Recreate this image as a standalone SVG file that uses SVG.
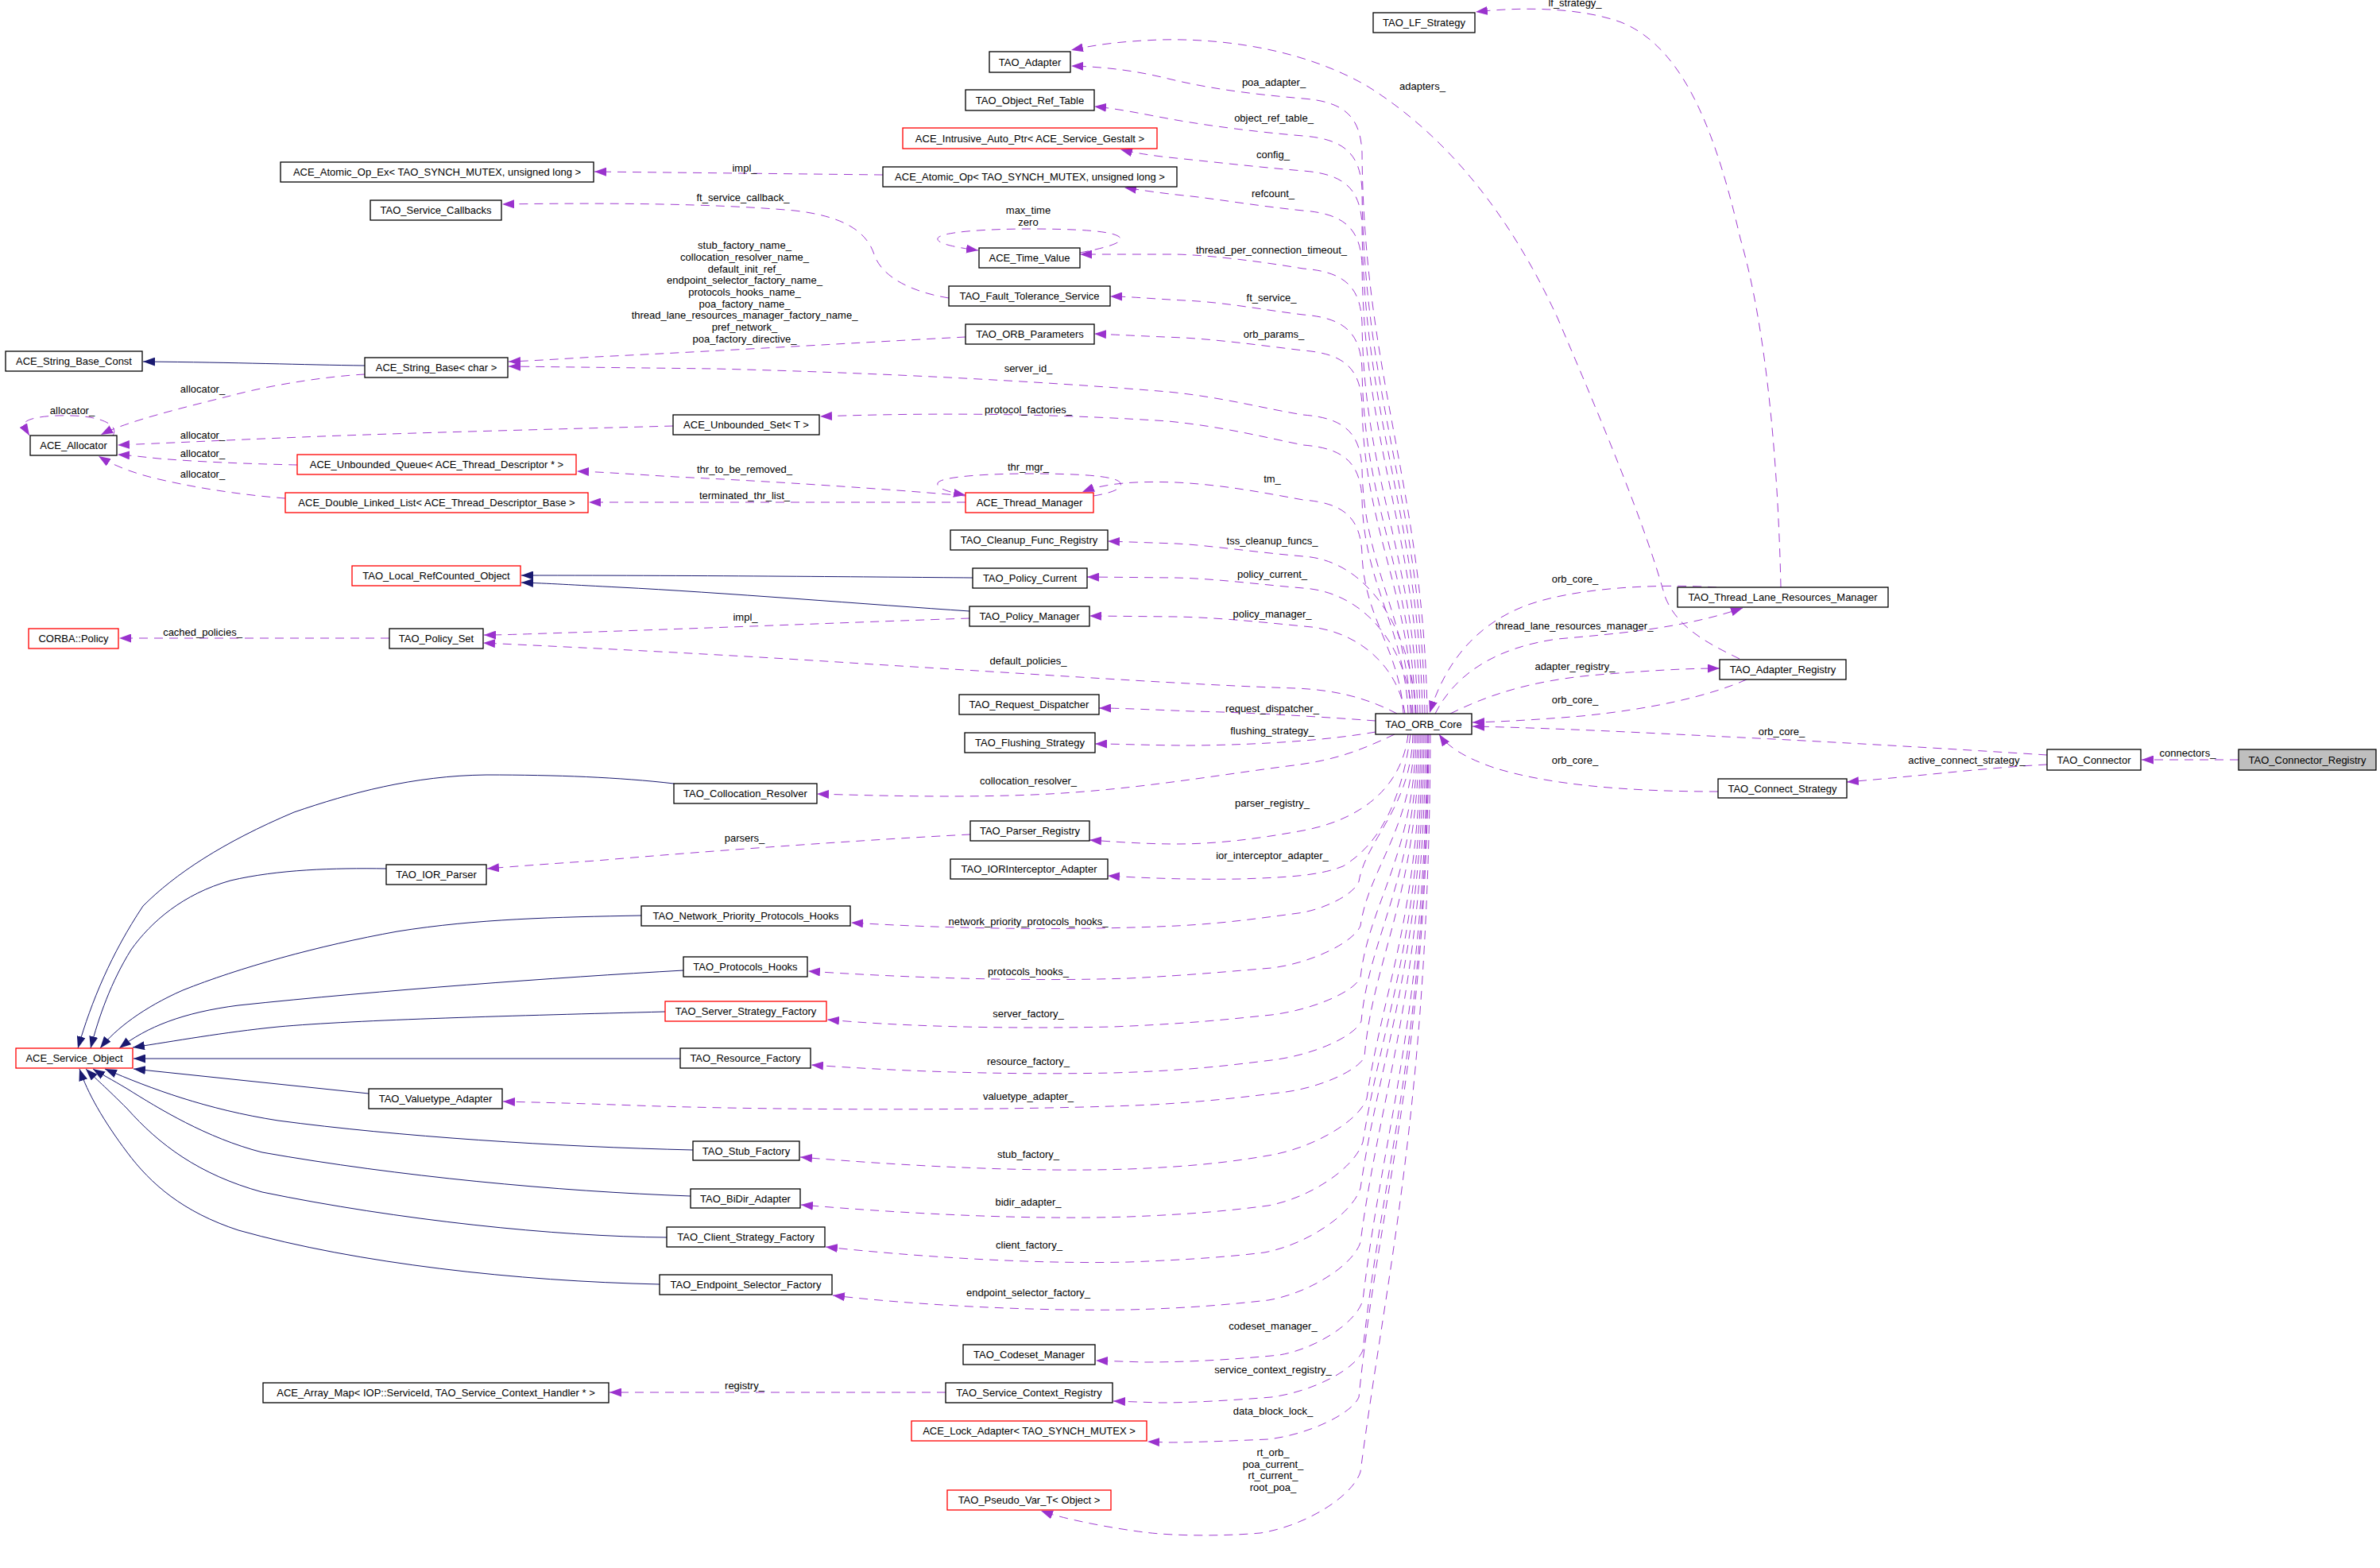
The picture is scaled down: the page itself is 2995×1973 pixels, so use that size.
<svg xmlns="http://www.w3.org/2000/svg" width="2995" height="1973" viewBox="0 0 2995 1973">
<defs>
<marker id="pa" markerUnits="userSpaceOnUse" markerWidth="15" markerHeight="11" viewBox="0 0 15 11" refX="15" refY="5.5" orient="auto"><path d="M0,0 L15,5.5 L0,11 z" fill="#9a32cd"/></marker>
<marker id="ba" markerUnits="userSpaceOnUse" markerWidth="15" markerHeight="11" viewBox="0 0 15 11" refX="15" refY="5.5" orient="auto"><path d="M0,0 L15,5.5 L0,11 z" fill="#191970"/></marker>
</defs>
<style>
text{font-family:"Liberation Sans",Arial,Helvetica,sans-serif;font-size:13px;fill:#000;text-anchor:middle}
.n rect{fill:#fff;stroke:#000;stroke-width:1.3}
.r rect{fill:#fff;stroke:#ff0000;stroke-width:1.3}
.g rect{fill:#bfbfbf;stroke:#000;stroke-width:1.3}
.u{fill:none;stroke:#9a32cd;stroke-width:0.95;stroke-dasharray:11,8;marker-end:url(#pa)}
.i{fill:none;stroke:#191970;stroke-width:1;marker-end:url(#ba)}
</style>
<rect width="2995" height="1973" fill="#fff"/>
<g id="edges">
<path class="u" d="M1796,898 C1792,616 1716,474 1714,192 C1712,147 1692,128 1640,124 C1570,118 1520,111 1470,99 C1430,89 1390,84 1348,83"/>
<path class="u" d="M1793,898 C1789,634 1716,503 1714,239 C1712,194 1692,175 1640,171 C1580,166 1520,158 1480,151 C1440,144 1410,137 1377,134"/>
<path class="u" d="M1790,898 C1786,652 1716,529 1714,283 C1712,238 1692,219 1640,215 C1580,210 1520,203 1480,199 C1450,196 1425,192 1410,188"/>
<path class="u" d="M1787,898 C1783,672 1716,559 1714,333 C1712,288 1692,269 1640,265 C1580,259 1530,250 1490,246 C1460,243 1435,239 1415,236"/>
<path class="u" d="M1784,898 C1780,701 1716,603 1714,406 C1712,361 1692,342 1640,338 C1580,328 1520,321 1480,320 L1359,320"/>
<path class="u" d="M1781,898 C1777,724 1716,638 1714,464 C1712,419 1692,400 1640,396 C1590,390 1540,380 1490,378 C1450,376 1420,373 1397,373"/>
<path class="u" d="M1778,898 C1774,742 1716,665 1714,509 C1712,464 1692,445 1640,441 C1590,435 1540,428 1490,425 C1440,423 1400,421 1377,420"/>
<path class="u" d="M1775,898 C1771,775 1716,713 1714,590 C1712,545 1692,526 1640,522 C1590,514 1540,500 1470,493 C1300,479 1100,469 900,464 L640,461"/>
<path class="u" d="M1772,898 C1768,790 1716,736 1714,628 C1712,583 1692,564 1640,560 C1590,550 1540,537 1470,530 C1350,522 1200,518 1032,524"/>
<path class="u" d="M1766,898 C1762,818 1716,777 1714,697 C1712,652 1692,633 1640,629 C1590,620 1540,610 1480,607 C1430,605 1390,608 1362,619"/>
<path class="u" d="M1782,898 C1776,790 1720,705 1640,700 C1580,695 1520,686 1480,684 L1394,681"/>
<path class="u" d="M1777,898 C1770,810 1715,745 1640,740 C1590,736 1530,728 1480,727 L1368,726"/>
<path class="u" d="M1768,898 C1760,840 1710,792 1640,788 C1580,782 1530,777 1480,776 L1371,775"/>
<path class="u" d="M1758,898 C1720,878 1680,868 1630,866 C1500,862 1300,848 1100,836 C950,826 800,818 608,809"/>
<path class="u" d="M1731,907 C1650,901 1560,896 1500,895 C1450,893 1410,891 1383,891"/>
<path class="u" d="M1731,921 C1680,930 1600,937 1500,938 C1450,938 1410,936 1378,936"/>
<path class="u" d="M1755,924 C1710,945 1680,957 1620,964 C1520,977 1420,995 1300,1000 C1200,1004 1100,1001 1028,999"/>
<path class="u" d="M1772,924 C1765,985 1720,1030 1640,1045 C1580,1056 1530,1062 1480,1062 C1440,1062 1400,1059 1371,1057"/>
<path class="u" d="M1775,924 C1765,1000 1740,1060 1690,1090 C1660,1102 1620,1104 1560,1106 C1500,1107 1440,1105 1394,1102"/>
<path class="u" d="M1778,924 C1776,1016 1720,1054 1710,1109 C1704,1125 1668,1144 1634,1149 C1580,1156 1540,1162 1480,1165 C1350,1171 1200,1169 1071,1161"/>
<path class="u" d="M1780,924 C1778,1044 1722,1093 1712,1165 C1703,1186 1650,1212 1600,1218 C1550,1222 1500,1227 1420,1231 C1300,1235 1150,1231 1017,1222"/>
<path class="u" d="M1782,924 C1780,1077 1722,1138 1712,1230 C1703,1249 1650,1271 1600,1277 C1550,1282 1500,1288 1400,1292 C1250,1295 1130,1291 1041,1283"/>
<path class="u" d="M1784,924 C1782,1104 1723,1177 1713,1285 C1704,1305 1651,1328 1600,1334 C1550,1340 1500,1347 1400,1350 C1250,1353 1120,1347 1021,1340"/>
<path class="u" d="M1786,924 C1784,1127 1727,1208 1717,1330 C1708,1348 1658,1370 1610,1375 C1560,1381 1520,1386 1450,1390 C1300,1397 1000,1398 800,1391 C720,1388 670,1387 633,1386"/>
<path class="u" d="M1788,924 C1786,1153 1740,1245 1720,1382 C1710,1411 1652,1445 1596,1454 C1550,1462 1500,1468 1420,1471 C1300,1475 1150,1468 1007,1456"/>
<path class="u" d="M1790,924 C1788,1180 1740,1283 1715,1437 C1705,1469 1650,1507 1596,1517 C1550,1523 1500,1528 1420,1531 C1300,1535 1150,1528 1008,1516"/>
<path class="u" d="M1792,924 C1790,1210 1737,1324 1712,1495 C1702,1527 1645,1566 1591,1576 C1550,1581 1500,1585 1420,1588 C1300,1591 1150,1581 1039,1569"/>
<path class="u" d="M1794,924 C1792,1244 1737,1371 1712,1563 C1703,1592 1648,1627 1596,1636 C1550,1641 1500,1646 1420,1648 C1300,1650 1150,1642 1048,1630"/>
<path class="u" d="M1796,924 C1794,1280 1740,1422 1715,1636 C1707,1664 1657,1697 1610,1705 C1560,1710 1500,1714 1440,1714 L1379,1712"/>
<path class="u" d="M1797,924 C1795,1311 1740,1467 1715,1699 C1706,1723 1652,1751 1600,1758 C1550,1762 1500,1765 1460,1765 L1401,1763"/>
<path class="u" d="M1798,924 C1796,1341 1735,1508 1710,1758 C1701,1779 1647,1805 1596,1811 C1550,1813 1500,1815 1470,1815 L1444,1814"/>
<path class="u" d="M1800,924 C1798,1388 1745,1600 1712,1852 C1702,1883 1643,1920 1586,1929 C1540,1933 1480,1933 1440,1928 C1400,1923 1340,1912 1310,1901"/>
<path class="u" d="M2160,739 C2080,734 1980,740 1920,762 C1860,785 1820,830 1799,897"/>
<path class="u" d="M1806,898 C1830,850 1880,815 1960,804 C2040,797 2120,790 2193,765"/>
<path class="u" d="M1825,898 C1870,876 1920,858 2000,850 C2070,844 2120,841 2164,841"/>
<path class="u" d="M2198,855 C2150,876 2080,892 1990,901 C1930,906 1890,908 1853,909"/>
<path class="u" d="M2576,950 C2450,942 2300,933 2150,926 C2050,921 1950,916 1853,914"/>
<path class="u" d="M2162,996 C2050,996 1950,988 1880,966 C1845,954 1822,940 1811,924"/>
<path class="u" d="M2576,962 C2500,966 2420,976 2324,984"/>
<path class="u" d="M2817,956 L2695,956"/>
<path class="u" d="M2241,739 C2238,600 2225,420 2190,300 C2160,170 2120,60 2040,28 C1990,10 1920,8 1857,15"/>
<path class="u" d="M2189,829 C2150,810 2110,790 2095,750 C2070,660 2020,540 1960,400 C1900,270 1820,170 1720,108 C1640,62 1540,48 1460,50 C1410,52 1380,56 1348,63"/>
<path class="u" d="M1215,424 C1100,430 900,442 750,449 C700,452 670,454 640,455"/>
<path class="u" d="M1194,375 C1150,368 1110,350 1100,320 C1090,290 1060,272 1000,265 C900,256 760,255 632,257"/>
<path class="u" d="M1111,220 L748,216"/>
<path class="u" d="M1359,318 C1390,312 1412,306 1410,300 C1406,290 1350,288 1295,288 C1240,288 1182,292 1180,300 C1178,306 1200,311 1231,315"/>
<path class="u" d="M1376,624 C1406,619 1412,613 1410,608 C1406,598 1350,596 1295,596 C1240,596 1182,600 1180,608 C1178,614 1192,619 1215,623"/>
<path class="u" d="M1215,624 C1150,618 1000,607 850,600 C800,597 760,594 726,593"/>
<path class="u" d="M1215,632 L741,632"/>
<path class="i" d="M459,460 C380,459 300,456 180,455"/>
<path class="u" d="M459,471 C420,473 350,482 290,498 C230,513 160,530 127,547"/>
<path class="u" d="M142,548 C150,536 130,524 90,523 C55,522 28,527 31,535 C32,539 34,543 37,548"/>
<path class="u" d="M847,536 C700,540 500,545 380,550 C280,554 200,558 148,560"/>
<path class="u" d="M374,585 C330,584 260,582 200,577 C180,575 165,573 148,572"/>
<path class="u" d="M359,627 C320,624 260,617 200,603 C170,596 145,587 124,574"/>
<path class="i" d="M1224,727 C1100,726 900,724 656,724"/>
<path class="i" d="M1220,769 C1100,761 900,745 780,739 C720,736 690,734 656,733"/>
<path class="u" d="M1220,778 C1100,782 900,790 750,795 C680,797 640,799 609,799"/>
<path class="u" d="M490,803 L150,803"/>
<path class="u" d="M1221,1050 C1100,1056 900,1070 750,1083 C690,1087 650,1090 613,1093"/>
<path class="u" d="M1190,1752 L767,1752"/>
<path class="i" d="M848,986 C780,978 700,975 612,975 C520,976 440,998 370,1022 C280,1060 220,1100 180,1140 C140,1200 115,1260 98,1319"/>
<path class="i" d="M486,1093 C420,1092 350,1094 290,1108 C230,1125 190,1160 165,1195 C140,1235 124,1280 114,1319"/>
<path class="i" d="M807,1152 C700,1154 600,1156 500,1172 C400,1190 300,1218 230,1246 C180,1268 145,1295 126,1319"/>
<path class="i" d="M860,1221 C700,1230 480,1246 300,1265 C230,1274 185,1292 150,1319"/>
<path class="i" d="M837,1273 C650,1278 450,1283 350,1292 C280,1299 220,1310 167,1318"/>
<path class="i" d="M856,1332 L168,1332"/>
<path class="i" d="M464,1376 L168,1345"/>
<path class="i" d="M872,1447 C700,1443 500,1430 350,1410 C260,1396 190,1370 132,1345"/>
<path class="i" d="M869,1505 C700,1499 500,1480 330,1450 C260,1432 200,1395 160,1370 C140,1358 128,1352 117,1345"/>
<path class="i" d="M839,1557 C700,1556 500,1535 330,1500 C250,1478 200,1440 160,1395 C135,1370 118,1355 108,1345"/>
<path class="i" d="M830,1616 C650,1612 450,1590 300,1548 C230,1525 190,1490 160,1450 C130,1410 110,1375 100,1345"/>
<text x="1982" y="8">lf_strategy_</text>
<text x="1603" y="108">poa_adapter_</text>
<text x="1790" y="113">adapters_</text>
<text x="1603" y="153">object_ref_table_</text>
<text x="1602" y="199">config_</text>
<text x="1602" y="248">refcount_</text>
<text x="1600" y="319">thread_per_connection_timeout_</text>
<text x="1600" y="379">ft_service_</text>
<text x="1603" y="425">orb_params_</text>
<text x="1601" y="607">tm_</text>
<text x="937" y="216">impl_</text>
<text x="935" y="253">ft_service_callback_</text>
<text x="1294" y="269">max_time</text>
<text x="1294" y="284">zero</text>
<text x="937" y="313">stub_factory_name_</text>
<text x="937" y="328">collocation_resolver_name_</text>
<text x="937" y="343">default_init_ref_</text>
<text x="937" y="357">endpoint_selector_factory_name_</text>
<text x="937" y="372">protocols_hooks_name_</text>
<text x="937" y="387">poa_factory_name_</text>
<text x="937" y="401">thread_lane_resources_manager_factory_name_</text>
<text x="937" y="416">pref_network_</text>
<text x="937" y="431">poa_factory_directive_</text>
<text x="1294" y="468">server_id_</text>
<text x="1294" y="520">protocol_factories_</text>
<text x="255" y="494">allocator_</text>
<text x="91" y="521">allocator_</text>
<text x="255" y="552">allocator_</text>
<text x="255" y="575">allocator_</text>
<text x="255" y="601">allocator_</text>
<text x="937" y="595">thr_to_be_removed_</text>
<text x="1294" y="592">thr_mgr_</text>
<text x="937" y="628">terminated_thr_list_</text>
<text x="1601" y="685">tss_cleanup_funcs_</text>
<text x="1601" y="727">policy_current_</text>
<text x="1601" y="777">policy_manager_</text>
<text x="938" y="781">impl_</text>
<text x="255" y="800">cached_policies_</text>
<text x="1294" y="836">default_policies_</text>
<text x="1601" y="896">request_dispatcher_</text>
<text x="1601" y="924">flushing_strategy_</text>
<text x="1982" y="733">orb_core_</text>
<text x="1981" y="792">thread_lane_resources_manager_</text>
<text x="1982" y="843">adapter_registry_</text>
<text x="1982" y="885">orb_core_</text>
<text x="2242" y="925">orb_core_</text>
<text x="1982" y="961">orb_core_</text>
<text x="2753" y="952">connectors_</text>
<text x="2475" y="961">active_connect_strategy_</text>
<text x="1294" y="987">collocation_resolver_</text>
<text x="1601" y="1015">parser_registry_</text>
<text x="937" y="1059">parsers_</text>
<text x="1601" y="1081">ior_interceptor_adapter_</text>
<text x="1294" y="1164">network_priority_protocols_hooks_</text>
<text x="1294" y="1227">protocols_hooks_</text>
<text x="1294" y="1280">server_factory_</text>
<text x="1294" y="1340">resource_factory_</text>
<text x="1294" y="1384">valuetype_adapter_</text>
<text x="1294" y="1457">stub_factory_</text>
<text x="1294" y="1517">bidir_adapter_</text>
<text x="1295" y="1571">client_factory_</text>
<text x="1294" y="1631">endpoint_selector_factory_</text>
<text x="1602" y="1673">codeset_manager_</text>
<text x="937" y="1748">registry_</text>
<text x="1602" y="1728">service_context_registry_</text>
<text x="1602" y="1780">data_block_lock_</text>
<text x="1602" y="1832">rt_orb_</text>
<text x="1602" y="1847">poa_current_</text>
<text x="1602" y="1861">rt_current_</text>
<text x="1602" y="1876">root_poa_</text>
</g>
<g id="n_lf" class="n"><rect x="1728" y="16" width="128" height="25"/><text x="1792" y="33">TAO_LF_Strategy</text></g>
<g id="n_adapter" class="n"><rect x="1245" y="65" width="102" height="26"/><text x="1296" y="82.5">TAO_Adapter</text></g>
<g id="n_ort" class="n"><rect x="1215" y="113" width="162" height="26"/><text x="1296" y="130.5">TAO_Object_Ref_Table</text></g>
<g id="n_iap" class="r"><rect x="1136" y="161" width="320" height="26"/><text x="1296" y="178.5">ACE_Intrusive_Auto_Ptr&lt; ACE_Service_Gestalt &gt;</text></g>
<g id="n_aoex" class="n"><rect x="353" y="204" width="394" height="25"/><text x="550" y="221">ACE_Atomic_Op_Ex&lt; TAO_SYNCH_MUTEX, unsigned long &gt;</text></g>
<g id="n_ao" class="n"><rect x="1111" y="210" width="370" height="25"/><text x="1296" y="227">ACE_Atomic_Op&lt; TAO_SYNCH_MUTEX, unsigned long &gt;</text></g>
<g id="n_scb" class="n"><rect x="466" y="252" width="165" height="25"/><text x="548.5" y="269">TAO_Service_Callbacks</text></g>
<g id="n_tv" class="n"><rect x="1232" y="312" width="127" height="25"/><text x="1295.5" y="329">ACE_Time_Value</text></g>
<g id="n_fts" class="n"><rect x="1194" y="360" width="203" height="25"/><text x="1295.5" y="377">TAO_Fault_Tolerance_Service</text></g>
<g id="n_orbp" class="n"><rect x="1215" y="408" width="162" height="25"/><text x="1296" y="425">TAO_ORB_Parameters</text></g>
<g id="n_sbc" class="n"><rect x="7" y="442" width="172" height="25"/><text x="93" y="459">ACE_String_Base_Const</text></g>
<g id="n_sb" class="n"><rect x="459" y="450" width="180" height="25"/><text x="549" y="467">ACE_String_Base&lt; char &gt;</text></g>
<g id="n_us" class="n"><rect x="847" y="522" width="184" height="25"/><text x="939" y="539">ACE_Unbounded_Set&lt; T &gt;</text></g>
<g id="n_alloc" class="n"><rect x="38" y="548" width="109" height="25"/><text x="92.5" y="565">ACE_Allocator</text></g>
<g id="n_uq" class="r"><rect x="374" y="572" width="351" height="25"/><text x="549.5" y="589">ACE_Unbounded_Queue&lt; ACE_Thread_Descriptor * &gt;</text></g>
<g id="n_dll" class="r"><rect x="359" y="620" width="381" height="25"/><text x="549.5" y="637">ACE_Double_Linked_List&lt; ACE_Thread_Descriptor_Base &gt;</text></g>
<g id="n_tm" class="r"><rect x="1215" y="620" width="161" height="25"/><text x="1295.5" y="637">ACE_Thread_Manager</text></g>
<g id="n_cfr" class="n"><rect x="1196" y="667" width="198" height="25"/><text x="1295" y="684">TAO_Cleanup_Func_Registry</text></g>
<g id="n_lrco" class="r"><rect x="443" y="712" width="212" height="25"/><text x="549" y="729">TAO_Local_RefCounted_Object</text></g>
<g id="n_pc" class="n"><rect x="1224" y="715" width="144" height="25"/><text x="1296" y="732">TAO_Policy_Current</text></g>
<g id="n_pm" class="n"><rect x="1220" y="763" width="151" height="25"/><text x="1295.5" y="780">TAO_Policy_Manager</text></g>
<g id="n_cp" class="r"><rect x="36" y="791" width="113" height="25"/><text x="92.5" y="808">CORBA::Policy</text></g>
<g id="n_ps" class="n"><rect x="490" y="791" width="118" height="25"/><text x="549" y="808">TAO_Policy_Set</text></g>
<g id="n_rd" class="n"><rect x="1207" y="874" width="176" height="25"/><text x="1295" y="891">TAO_Request_Dispatcher</text></g>
<g id="n_orb" class="n"><rect x="1731" y="898" width="121" height="26"/><text x="1791.5" y="915.5">TAO_ORB_Core</text></g>
<g id="n_fs" class="n"><rect x="1214" y="922" width="164" height="25"/><text x="1296" y="939">TAO_Flushing_Strategy</text></g>
<g id="n_tlrm" class="n"><rect x="2111" y="739" width="265" height="25"/><text x="2243.5" y="756">TAO_Thread_Lane_Resources_Manager</text></g>
<g id="n_ar" class="n"><rect x="2164" y="830" width="159" height="25"/><text x="2243.5" y="847">TAO_Adapter_Registry</text></g>
<g id="n_conn" class="n"><rect x="2576" y="943" width="118" height="26"/><text x="2635" y="960.5">TAO_Connector</text></g>
<g id="n_creg" class="g"><rect x="2817" y="943" width="173" height="26"/><text x="2903.5" y="960.5">TAO_Connector_Registry</text></g>
<g id="n_cs" class="n"><rect x="2162" y="980" width="162" height="24"/><text x="2243" y="996.5">TAO_Connect_Strategy</text></g>
<g id="n_cr" class="n"><rect x="848" y="986" width="180" height="25"/><text x="938" y="1003">TAO_Collocation_Resolver</text></g>
<g id="n_pr" class="n"><rect x="1221" y="1033" width="150" height="25"/><text x="1296" y="1050">TAO_Parser_Registry</text></g>
<g id="n_iia" class="n"><rect x="1196" y="1081" width="198" height="25"/><text x="1295" y="1098">TAO_IORInterceptor_Adapter</text></g>
<g id="n_iorp" class="n"><rect x="486" y="1088" width="126" height="25"/><text x="549" y="1105">TAO_IOR_Parser</text></g>
<g id="n_npph" class="n"><rect x="807" y="1140" width="263" height="25"/><text x="938.5" y="1157">TAO_Network_Priority_Protocols_Hooks</text></g>
<g id="n_ph" class="n"><rect x="860" y="1204" width="156" height="25"/><text x="938" y="1221">TAO_Protocols_Hooks</text></g>
<g id="n_ssf" class="r"><rect x="837" y="1260" width="203" height="25"/><text x="938.5" y="1277">TAO_Server_Strategy_Factory</text></g>
<g id="n_so" class="r"><rect x="20" y="1319" width="147" height="25"/><text x="93.5" y="1336">ACE_Service_Object</text></g>
<g id="n_rf" class="n"><rect x="856" y="1319" width="164" height="25"/><text x="938" y="1336">TAO_Resource_Factory</text></g>
<g id="n_va" class="n"><rect x="464" y="1370" width="168" height="25"/><text x="548" y="1387">TAO_Valuetype_Adapter</text></g>
<g id="n_stub" class="n"><rect x="872" y="1436" width="134" height="24"/><text x="939" y="1452.5">TAO_Stub_Factory</text></g>
<g id="n_bidir" class="n"><rect x="869" y="1496" width="138" height="24"/><text x="938" y="1512.5">TAO_BiDir_Adapter</text></g>
<g id="n_csf" class="n"><rect x="839" y="1544" width="199" height="25"/><text x="938.5" y="1561">TAO_Client_Strategy_Factory</text></g>
<g id="n_esf" class="n"><rect x="830" y="1604" width="217" height="25"/><text x="938.5" y="1621">TAO_Endpoint_Selector_Factory</text></g>
<g id="n_cm" class="n"><rect x="1212" y="1692" width="166" height="25"/><text x="1295" y="1709">TAO_Codeset_Manager</text></g>
<g id="n_am" class="n"><rect x="331" y="1740" width="435" height="25"/><text x="548.5" y="1757">ACE_Array_Map&lt; IOP::ServiceId, TAO_Service_Context_Handler * &gt;</text></g>
<g id="n_scr" class="n"><rect x="1190" y="1740" width="210" height="25"/><text x="1295" y="1757">TAO_Service_Context_Registry</text></g>
<g id="n_la" class="r"><rect x="1147" y="1788" width="296" height="25"/><text x="1295" y="1805">ACE_Lock_Adapter&lt; TAO_SYNCH_MUTEX &gt;</text></g>
<g id="n_pv" class="r"><rect x="1192" y="1875" width="206" height="25"/><text x="1295" y="1892">TAO_Pseudo_Var_T&lt; Object &gt;</text></g>
</svg>
